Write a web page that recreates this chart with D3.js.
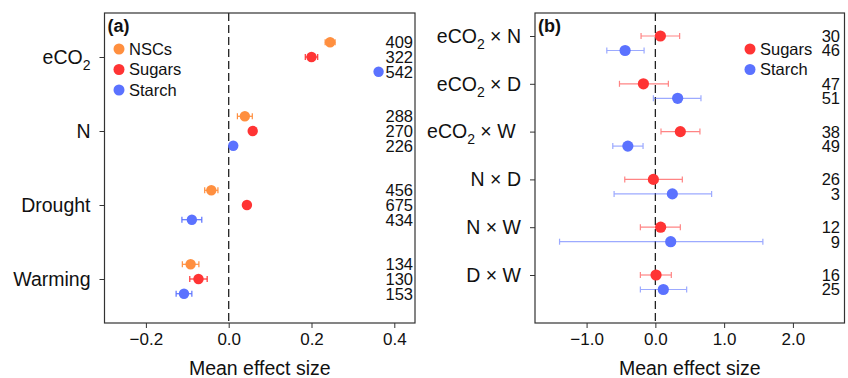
<!DOCTYPE html>
<html>
<head>
<meta charset="utf-8">
<script src="https://cdn.jsdelivr.net/npm/d3@7"></script>
<style>
  body { margin: 0; background: #fff; }
  svg { font-family: "Liberation Sans", Arial, sans-serif; }
</style>
</head>
<body>
<div id="chart"></div>
<script>
// panel (a) data
const catsA = ['eCO2', 'N', 'Drought', 'Warming'];
const nscMean = [0.245, 0.039, -0.042, -0.092];
const nscErr = [0.012, 0.018, 0.016, 0.020];
const nscN = [409, 288, 456, 134];
const sugMeanA = [0.200, 0.058, 0.044, -0.073];
const sugErrA = [0.015, 0.005, 0.004, 0.021];
const sugNA = [322, 270, 675, 130];
const staMeanA = [0.362, 0.011, -0.089, -0.108];
const staErrA = [0.004, 0.004, 0.024, 0.019];
const staNA = [542, 226, 434, 153];
const ticksA = [-0.2, 0.0, 0.2, 0.4];

// panel (b) data
const catsB = ['eCO2 × N', 'eCO2 × D', 'eCO2 × W', 'N × D', 'N × W', 'D × W'];
const sugMeanB = [0.073, -0.174, 0.363, -0.029, 0.077, 0.010];
const sugLoB = [-0.208, -0.522, 0.082, -0.445, -0.218, -0.218];
const sugHiB = [0.353, 0.189, 0.648, 0.392, 0.363, 0.232];
const sugNB = [30, 47, 38, 26, 12, 16];
const staMeanB = [-0.440, 0.324, -0.400, 0.247, 0.223, 0.116];
const staLoB = [-0.706, -0.029, -0.619, -0.600, -1.393, -0.218];
const staHiB = [-0.164, 0.663, -0.179, 0.818, 1.563, 0.455];
const staNB = [46, 51, 49, 3, 9, 25];
const ticksB = [-1.0, 0.0, 1.0, 2.0];

const ORANGE = '#ff8f3f', RED = '#ff3434', BLUE = '#5b72ff';
const FONT = '"Liberation Sans", Arial, sans-serif';

const svg = d3.select('#chart').append('svg')
  .attr('width', 848).attr('height', 378);

function labelText(sel, label) {
  // render "eCO2" with subscript 2
  if (label.startsWith('eCO2')) {
    sel.append('tspan').text('eCO');
    sel.append('tspan').attr('dy', 6).attr('font-size', 14).text('2');
    sel.append('tspan').attr('dy', -6).text(label.slice(4));
  } else {
    sel.text(label);
  }
}

function drawPanel(opt) {
  const g = svg.append('g');
  const x = d3.scaleLinear().domain(opt.domain).range([opt.left, opt.right]);
  const y = d3.scaleLinear().domain([0, 1]).range([opt.y0, opt.y0 + opt.step]);

  // dashed zero line
  g.append('line')
    .attr('x1', x(0)).attr('x2', x(0))
    .attr('y1', opt.top).attr('y2', opt.bottom)
    .attr('stroke', '#222').attr('stroke-width', 1.3)
    .attr('stroke-dasharray', '8,4');

  // x axis
  const xAxis = g.append('g')
    .attr('transform', `translate(0,${opt.bottom})`)
    .call(d3.axisBottom(x).tickValues(opt.ticks).tickSize(5).tickPadding(5)
      .tickFormat(d => d3.format('.1f')(d).replace('-', '\u2013')));
  xAxis.select('.domain').remove();
  xAxis.selectAll('text').attr('font-size', 17).attr('fill', '#111').attr('font-family', FONT);
  xAxis.selectAll('line').attr('stroke', '#333');

  // y axis
  const yAxis = g.append('g')
    .attr('transform', `translate(${opt.left},0)`)
    .call(d3.axisLeft(y).tickValues(opt.cats.map((c, i) => i)).tickSize(5).tickPadding(9)
      .tickFormat(() => ''));
  yAxis.select('.domain').remove();
  yAxis.selectAll('line').attr('stroke', '#333');
  yAxis.selectAll('.tick text').each(function (d) {
    const t = d3.select(this).attr('font-size', 19.5).attr('fill', '#111').attr('font-family', FONT);
    labelText(t, opt.cats[d]);
  });

  // frame
  g.append('rect')
    .attr('x', opt.left).attr('y', opt.top)
    .attr('width', opt.right - opt.left).attr('height', opt.bottom - opt.top)
    .attr('fill', 'none').attr('stroke', '#333').attr('stroke-width', 1.2);

  // series
  opt.series.forEach(s => {
    const cy = i => y(i) + s.offset;
    const sg = g.append('g');
    s.mean.forEach((m, i) => {
      const lo = x(s.lo[i]), hi = x(s.hi[i]);
      const eg = sg.append('g').attr('stroke', s.color).attr('stroke-width', 1.2)
        .attr('opacity', opt.errOpacity);
      eg.append('line').attr('x1', lo).attr('x2', hi).attr('y1', cy(i)).attr('y2', cy(i));
      eg.append('line').attr('x1', lo).attr('x2', lo).attr('y1', cy(i) - 3).attr('y2', cy(i) + 3);
      eg.append('line').attr('x1', hi).attr('x2', hi).attr('y1', cy(i) - 3).attr('y2', cy(i) + 3);
      sg.append('circle').attr('cx', x(m)).attr('cy', cy(i)).attr('r', opt.r).attr('fill', s.color);
      sg.append('text').attr('x', opt.nX).attr('y', cy(i)).attr('dy', '0.36em')
        .attr('text-anchor', 'end').attr('font-size', 16.5).attr('fill', '#111')
        .text(s.n[i]);
    });
  });

  // legend
  opt.series.filter(s => s.legend).forEach((s, i) => {
    const ly = opt.legY + i * 20.5;
    g.append('circle').attr('cx', opt.legX).attr('cy', ly).attr('r', 5.5).attr('fill', s.color);
    g.append('text').attr('x', opt.legX + 10).attr('y', ly).attr('dy', '0.36em')
      .attr('font-size', 16.5).attr('fill', '#111').text(s.name);
  });

  // panel letter
  g.append('text').attr('x', opt.left + 3).attr('y', opt.top + 19)
    .attr('font-size', 18).attr('font-weight', 'bold').attr('fill', '#111').text(opt.letter);

  // x title
  g.append('text').attr('x', (opt.left + opt.right) / 2).attr('y', 375)
    .attr('text-anchor', 'middle').attr('font-size', 19.5).attr('fill', '#111')
    .text('Mean effect size');
}

const lo = (m, e) => m.map((v, i) => v - e[i]);
const hi = (m, e) => m.map((v, i) => v + e[i]);

drawPanel({
  letter: '(a)', cats: catsA, domain: [-0.3, 0.45], ticks: ticksA,
  left: 104.5, right: 415, top: 13, bottom: 323,
  y0: 57, step: 74, r: 5.2, nX: 413, errOpacity: 1,
  legX: 119, legY: 49,
  series: [
    { name: 'NSCs', color: ORANGE, offset: -14.7, mean: nscMean, lo: lo(nscMean, nscErr), hi: hi(nscMean, nscErr), n: nscN, legend: true },
    { name: 'Sugars', color: RED, offset: 0, mean: sugMeanA, lo: lo(sugMeanA, sugErrA), hi: hi(sugMeanA, sugErrA), n: sugNA, legend: true },
    { name: 'Starch', color: BLUE, offset: 14.7, mean: staMeanA, lo: lo(staMeanA, staErrA), hi: hi(staMeanA, staErrA), n: staNA, legend: true }
  ]
});

drawPanel({
  letter: '(b)', cats: catsB.map(c => c === 'eCO2 × W' ? c + '\u00a0' : c), domain: [-1.75, 2.75], ticks: ticksB,
  left: 535, right: 844.5, top: 13, bottom: 323,
  y0: 36, step: 47.8, r: 5.6, nX: 840, errOpacity: 0.6,
  legX: 750, legY: 49,
  series: [
    { name: 'Sugars', color: RED, offset: 0, mean: sugMeanB, lo: sugLoB, hi: sugHiB, n: sugNB, legend: true },
    { name: 'Starch', color: BLUE, offset: 14.5, mean: staMeanB, lo: staLoB, hi: staHiB, n: staNB, legend: true }
  ]
});
</script>
</body>
</html>
